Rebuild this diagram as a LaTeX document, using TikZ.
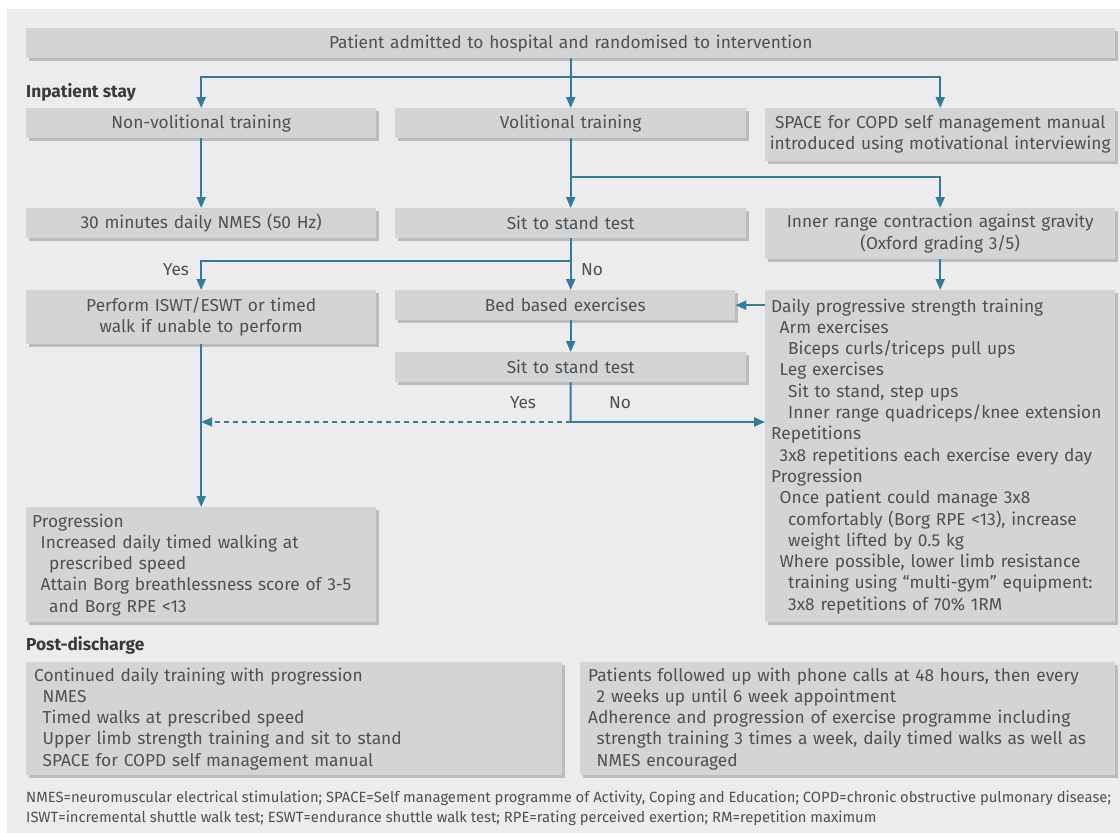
\documentclass[tikz,border=0pt]{standalone}
\usepackage{fontspec}
\setmainfont{Fira Sans}
\usetikzlibrary{arrows.meta,shadows}
\definecolor{bggray}{HTML}{ECECEE}
\definecolor{boxgray}{HTML}{D3D4D6}
\definecolor{shadowgray}{HTML}{BBBCBE}
\definecolor{linecol}{HTML}{2F7D9A}
\definecolor{txt}{HTML}{505052}
\definecolor{hdr}{HTML}{3A3A3C}
\newcommand\indA{\hspace*{8.5pt}}
\newcommand\indB{\hspace*{17pt}}
\begin{document}
\begin{tikzpicture}[x=1pt,y=-1pt,
  mainfont/.style={font=\fontsize{17.3}{21.3}\selectfont},
  box/.style={mainfont, fill=boxgray, draw=none, text=txt, anchor=north west,
    inner xsep=0pt, inner ysep=0pt,
    drop shadow={opacity=1, fill=shadowgray, shadow xshift=3pt, shadow yshift=-3pt}},
  cbox/.style={box, align=center},
  lbox/.style={box, align=left},
  lbl/.style={mainfont, text=txt, inner sep=0pt},
  hdrlbl/.style={font=\fontsize{17.3}{20}\selectfont\bfseries, text=hdr, inner sep=0pt, anchor=west},
  conn/.style={draw=linecol, line width=2pt},
  arr/.style={conn, -{Triangle[length=11pt,width=9pt]}},
  dasharr/.style={arr, dash pattern=on 5pt off 4pt}
]
\useasboundingbox (0,0) rectangle (1120,833);
\fill[bggray] (7,9) rectangle (1120,833);

% boxes
\node[cbox, minimum width=1089pt, minimum height=30pt, text width=1089pt] (top) at (26,28)
  {Patient admitted to hospital and randomised to intervention};
\node[hdrlbl] (inpat) at (26,92) {Inpatient stay};
\node[cbox, minimum width=350pt, minimum height=30pt, text width=350pt] (nonvol) at (26,108)
  {Non-volitional training};
\node[cbox, minimum width=351pt, minimum height=30pt, text width=351pt] (vol) at (395,108)
  {Volitional training};
\node[cbox, minimum width=350pt, minimum height=53pt, text width=350pt] (space) at (765,108)
  {SPACE for COPD self management manual\\introduced using motivational interviewing};
\node[cbox, minimum width=350pt, minimum height=30pt, text width=350pt] (nmes) at (26,208)
  {30 minutes daily NMES (50 Hz)};
\node[cbox, minimum width=351pt, minimum height=30pt, text width=351pt] (sit1) at (395,208)
  {Sit to stand test};
\node[cbox, minimum width=350pt, minimum height=51pt, text width=350pt] (inner) at (765,208)
  {Inner range contraction against gravity\\(Oxford grading 3/5)};
\node[cbox, minimum width=350pt, minimum height=54pt, text width=350pt] (perform) at (26,290)
  {Perform ISWT/ESWT or timed\\walk if unable to perform};
\node[cbox, minimum width=340pt, minimum height=30pt, text width=340pt] (bed) at (395,290)
  {Bed based exercises};
\node[cbox, minimum width=351pt, minimum height=30pt, text width=351pt] (sit2) at (395,352)
  {Sit to stand test};
\node[lbox, minimum width=350pt, minimum height=332pt, inner xsep=6pt, text width=338pt] (daily) at (765,290)
  {Daily progressive strength training\\
   \indA Arm exercises\\
   \indB Biceps curls/triceps pull ups\\
   \indA Leg exercises\\
   \indB Sit to stand, step ups\\
   \indB Inner range quadriceps/knee extension\\
   Repetitions\\
   \indA 3x8 repetitions each exercise every day\\
   Progression\\
   \indA Once patient could manage 3x8\\
   \indB comfortably (Borg RPE <13), increase\\
   \indB weight lifted by 0.5 kg\\
   \indA Where possible, lower limb resistance\\
   \indB training using “multi-gym” equipment:\\
   \indB 3x8 repetitions of 70\% 1RM};
\node[lbox, minimum width=350pt, minimum height=115pt, inner xsep=6pt, text width=338pt] (prog) at (26,507)
  {Progression\\
   \indA Increased daily timed walking at\\
   \indB prescribed speed\\
   \indA Attain Borg breathlessness score of 3-5\\
   \indB and Borg RPE <13};
\node[hdrlbl] (postd) at (26,645) {Post-discharge};
\node[lbox, minimum width=536pt, minimum height=113pt, inner xsep=8pt, text width=520pt] (post1) at (26,662)
  {Continued daily training with progression\\
   \indA NMES\\
   \indA Timed walks at prescribed speed\\
   \indA Upper limb strength training and sit to stand\\
   \indA SPACE for COPD self management manual};
\node[lbox, minimum width=535pt, minimum height=113pt, inner xsep=8pt, text width=519pt] (post2) at (580,662)
  {Patients followed up with phone calls at 48 hours, then every\\
   \indA 2 weeks up until 6 week appointment\\
   Adherence and progression of exercise programme including\\
   \indA strength training 3 times a week, daily timed walks as well as\\
   \indA NMES encouraged};
\node[font=\fontsize{14.8}{20}\selectfont, text=txt, align=left, anchor=north west, inner sep=0pt] (foot) at (26,791)
  {NMES=neuromuscular electrical stimulation; SPACE=Self management programme of Activity, Coping and Education; COPD=chronic obstructive pulmonary disease;\\
   ISWT=incremental shuttle walk test; ESWT=endurance shuttle walk test; RPE=rating perceived exertion; RM=repetition maximum};

% labels
\node[lbl] (yes1) at (176,270) {Yes};
\node[lbl] (no1) at (592,270) {No};
\node[lbl] (yes2) at (523,403) {Yes};
\node[lbl] (no2) at (620,403) {No};

% junctions
\coordinate (j1) at (570.5,77);
\coordinate (j2) at (570.5,177);
\coordinate (j3) at (570.5,261);
\coordinate (j4) at (570.5,422);

% connectors
\draw[arr] (top.south) -- (vol.north);
\draw[arr] (j1) -| (nonvol.north);
\draw[arr] (j1) -| (space.north);
\draw[arr] (nonvol.south) -- (nmes.north);
\draw[arr] (vol.south) -- (sit1.north);
\draw[arr] (j2) -| (inner.north);
\draw[arr] (sit1.south) -- (sit1.south |- bed.north);
\draw[arr] (j3) -| (perform.north);
\draw[arr] (inner.south) -- (daily.north);
\draw[arr] (bed.east -| daily.west) -- (bed.east);
\draw[arr] (sit2.north |- bed.south) -- (sit2.north);
\draw[conn] (sit2.south) -- (j4);
\draw[arr] (j4) -- (j4 -| daily.west);
\draw[dasharr] (j4) -- (j4 -| perform.south);
\draw[arr] (perform.south) -- (prog.north);
\end{tikzpicture}
\end{document}
